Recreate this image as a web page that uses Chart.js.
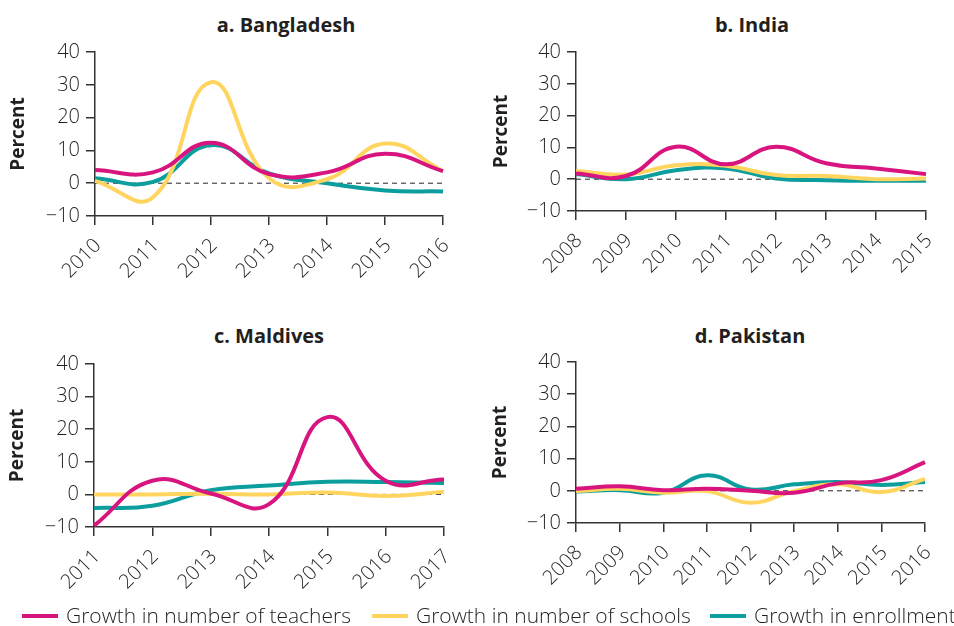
<!DOCTYPE html>
<html>
<head>
<meta charset="utf-8">
<script src="https://cdn.jsdelivr.net/npm/chart.js@4"></script>
<style>
  html, body { margin: 0; padding: 0; background: #fff; overflow: hidden; }
  body { width: 954px; height: 626px; position: relative; font-family: "Open Sans", sans-serif; }
  .panel { position: absolute; width: 477px; height: 300px; }
  .ttl { position: absolute; font: bold 20px "Open Sans", sans-serif; color: #231f20; white-space: nowrap; transform: translate(-50%, -50%); }
  .legend { position: absolute; left: 0; top: 603px; width: 954px; height: 24px; font: 300 21px "Open Sans", sans-serif; color: #231f20; }
  .legend span.item { position: absolute; top: 0; line-height: 24px; white-space: nowrap; }
  .legend i { display: inline-block; width: 36px; height: 4px; vertical-align: middle; margin-right: 8px; position: relative; top: -1px; }
</style>
</head>
<body>
<div class="ttl" style="left:286px; top:24px">a. Bangladesh</div>
<div class="ttl" style="left:752px; top:24px">b. India</div>
<div class="ttl" style="left:269px; top:335px">c. Maldives</div>
<div class="ttl" style="left:750px; top:335px">d. Pakistan</div>

<div class="panel" style="left:0; top:0"><canvas id="chartA" width="477" height="300"></canvas></div>
<div class="panel" style="left:477px; top:0"><canvas id="chartB" width="477" height="300"></canvas></div>
<div class="panel" style="left:0; top:310px"><canvas id="chartC" width="477" height="300"></canvas></div>
<div class="panel" style="left:477px; top:310px"><canvas id="chartD" width="477" height="300"></canvas></div>

<div class="legend" id="legend"></div>

<script>
// Tahun dan data pertumbuhan (persen) per negara
const yearsBangladesh = ['2010', '2011', '2012', '2013', '2014', '2015', '2016'];
const teachersBangladesh = [4.0, 3.3, 12.3, 2.8, 3.3, 9.0, 3.7];
const schoolsBangladesh = [0.7, -4.3, 30.8, 1.5, 1.2, 12.1, 3.7];
const enrollBangladesh = [1.5, 0.4, 11.6, 3.0, 0.0, -2.2, -2.5];

const yearsIndia = ['2008', '2009', '2010', '2011', '2012', '2013', '2014', '2015'];
const teachersIndia = [1.8, 1.0, 10.2, 4.7, 10.2, 5.0, 3.4, 1.6];
const schoolsIndia = [2.6, 1.5, 4.4, 4.2, 1.3, 1.0, 0.0, 0.2];
const enrollIndia = [1.6, 0.0, 2.8, 3.4, 0.2, -0.3, -0.5, -0.5];

const yearsMaldives = ['2011', '2012', '2013', '2014', '2015', '2016', '2017'];
const teachersMaldives = [-9.6, 4.2, 0.3, -3.0, 23.7, 4.2, 4.6];
const schoolsMaldives = [0.0, 0.0, 0.2, 0.0, 0.6, -0.5, 0.8];
const enrollMaldives = [-4.2, -3.5, 1.3, 2.7, 3.9, 3.8, 3.5];

const yearsPakistan = ['2008', '2009', '2010', '2011', '2012', '2013', '2014', '2015', '2016'];
const teachersPakistan = [0.6, 1.4, 0.2, 0.6, 0.0, -0.6, 2.3, 3.3, 8.9];
const schoolsPakistan = [-0.1, 0.6, -0.6, -0.1, -3.7, -0.1, 2.0, -0.4, 3.7];
const enrollPakistan = [-0.2, 0.2, -0.6, 4.8, 0.4, 2.0, 2.7, 1.8, 2.7];

const seriesNames = ['Growth in number of teachers', 'Growth in number of schools', 'Growth in enrollment'];
const seriesColors = ['#D8157F', '#FFD45F', '#0B9E9C'];

const yMin = -10;
const yMax = 40;
const yStep = 10;

const axisColor = '#333333';
const textColor = '#231f20';
const tickFont = { family: '"Open Sans", sans-serif', size: 20, weight: '300' };

// garis putus-putus pada nilai 0
const zeroLine = {
    id: 'zeroLine',
    beforeDatasetsDraw(chart) {
        const { ctx, chartArea, scales } = chart;
        const y = scales.y.getPixelForValue(0);
        ctx.save();
        ctx.strokeStyle = '#222';
        ctx.lineWidth = 1;
        ctx.setLineDash([5, 4]);
        ctx.beginPath();
        ctx.moveTo(chartArea.left, y);
        ctx.lineTo(chartArea.right, y);
        ctx.stroke();
        ctx.restore();
    }
};

function makePanel(id, years, values, box) {
    const datasets = values.map((v, i) => ({
        label: seriesNames[i],
        data: v,
        borderColor: seriesColors[i],
        backgroundColor: seriesColors[i],
        borderWidth: 4,
        pointRadius: 0,
        tension: 0.45,
        fill: false
    }));

    return new Chart(document.getElementById(id), {
        type: 'line',
        data: { labels: years, datasets: datasets },
        plugins: [zeroLine],
        options: {
            responsive: false,
            animation: false,
            layout: { padding: { top: box.top, right: box.right, left: 0, bottom: 0 } },
            plugins: {
                legend: { display: false },
                tooltip: { enabled: false }
            },
            scales: {
                x: {
                    offset: false,
                    grid: { drawOnChartArea: false, drawTicks: true, tickLength: 9, color: axisColor, lineWidth: 1.5 },
                    border: { color: axisColor, width: 1.5 },
                    ticks: { color: textColor, font: tickFont, minRotation: 45, maxRotation: 45, padding: 9, labelOffset: 3, autoSkip: false },
                    afterFit(scale) { scale.height = box.xHeight; }
                },
                y: {
                    min: yMin,
                    max: yMax,
                    grid: { drawOnChartArea: false, drawTicks: true, tickLength: 9, color: axisColor, lineWidth: 1.5 },
                    border: { color: axisColor, width: 1.5 },
                    ticks: {
                        stepSize: yStep,
                        autoSkip: false,
                        color: textColor,
                        font: tickFont,
                        padding: 6,
                        callback: v => String(v).replace('-', '\u2212')
                    },
                    title: {
                        display: true,
                        text: 'Percent',
                        color: textColor,
                        font: { family: '"Open Sans", sans-serif', size: 19, weight: 'bold' },
                        padding: { top: box.titlePad, bottom: 0 }
                    },
                    afterFit(scale) { scale.width = box.left; }
                }
            }
        }
    });
}

makePanel('chartA', yearsBangladesh, [teachersBangladesh, schoolsBangladesh, enrollBangladesh],
    { top: 52, right: 34, left: 95, xHeight: 84, titlePad: 7 });
makePanel('chartB', yearsIndia, [teachersIndia, schoolsIndia, enrollIndia],
    { top: 52, right: 28, left: 99, xHeight: 89, titlePad: 13 });
makePanel('chartC', yearsMaldives, [teachersMaldives, schoolsMaldives, enrollMaldives],
    { top: 54, right: 33, left: 94, xHeight: 83, titlePad: 6 });
makePanel('chartD', yearsPakistan, [teachersPakistan, schoolsPakistan, enrollPakistan],
    { top: 52, right: 29, left: 99, xHeight: 87, titlePad: 12 });

// legenda bersama di bawah
const legendLeft = [22, 372, 710];
const legendEl = document.getElementById('legend');
seriesNames.forEach((name, i) => {
    const item = document.createElement('span');
    item.className = 'item';
    item.style.left = legendLeft[i] + 'px';
    item.innerHTML = '<i style="background:' + seriesColors[i] + '"></i>' + name;
    legendEl.appendChild(item);
});
</script>
</body>
</html>
